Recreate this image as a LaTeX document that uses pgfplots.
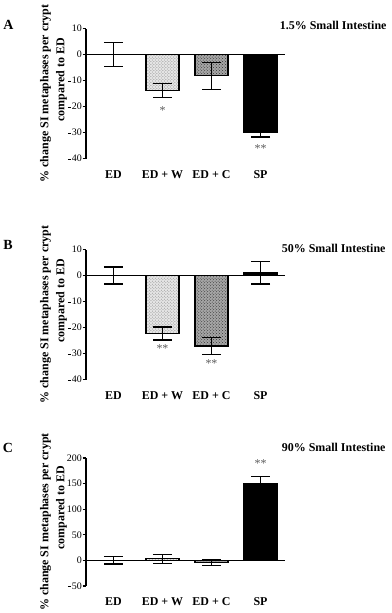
\documentclass[border=0pt]{standalone}
\usepackage{pgfplots}
\pgfplotsset{compat=1.18}
\usepackage{fontspec}
\setmainfont{Liberation Serif}
\usetikzlibrary{patterns}

\pgfplotsset{
  panel/.style={scale only axis, width=199bp, xmin=-0.561, xmax=3.5,
    axis y line*=left, axis x line*=bottom, x axis line style={draw=none},
    xtick={0,1,2,3}, xticklabels={ED, ED + W, ED + C, SP},
    xtick style={draw=none},
    xticklabel style={font=\bfseries\fontsize{12}{14}\selectfont, yshift=-5bp},
    tick align=outside, ytick style={black, line width=1.1pt}, major tick length=3.5bp,
    y axis line style={line width=1.6pt},
    yticklabel style={font=\fontsize{10}{12}\selectfont, inner sep=0.5pt},
    clip=false,
    ybar, bar shift=0pt, bar width=33bp},
  bars/.style={draw=black, line width=1.2pt,
    error bars/y dir=both, error bars/y explicit,
    error bars/error bar style={line width=1.2pt, black},
    error bars/error mark options={rotate=90, mark size=9.5bp, line width=1.2pt, black}},
  light/.style={bars, fill=black!10, postaction={pattern=crosshatch dots, pattern color=black!45}},
  dark/.style={bars, fill=black!35, postaction={pattern=crosshatch dots, pattern color=black!80}},
  solid/.style={bars, fill=black},
  plain/.style={bars, fill=white},
  zero/.style={sharp plot, line width=1.6pt, black, forget plot},
}
\tikzset{
  ylab/.style={rotate=90, font=\bfseries\fontsize{12}{14}\selectfont, inner sep=0pt},
  plab/.style={font=\bfseries\fontsize{14}{16}\selectfont},
  ttl/.style={anchor=east, font=\bfseries\fontsize{12}{14}\selectfont},
  star/.style={font=\fontsize{12}{14}\selectfont, text=black!65},
}
% a hyphen drawn a little heavier, so that it survives the small raster
\newcommand\mn{\rule[0.22em]{0.34em}{0.1em}\kern0.05em}

\begin{document}
\begin{tikzpicture}
\useasboundingbox (0,0) rectangle (392bp,-613bp);

%% A
\begin{axis}[panel, at={(86bp,-158.5bp)}, anchor=south west, height=130bp,
    ymin=-40, ymax=10, ytick={-40,-30,-20,-10,0,10},
    yticklabels={\mn40,\mn30,\mn20,\mn10,0,10}]
  \addplot[plain] coordinates {(0,0) +- (0,4.7)};
  \addplot[light] coordinates {(1,-13.8) +- (0,2.8)};
  \addplot[dark] coordinates {(2,-8.2) +- (0,5.2)};
  \addplot[solid] coordinates {(3,-30.1) +- (0,1.6)};
  \addplot[zero] coordinates {(-0.561,0) (3.5,0)};
  \node[star] at (axis cs:1,-21.5) {*};
  \node[star] at (axis cs:3,-36) {**};
\end{axis}
\node[ylab] at (45.5bp,-93.5bp) {\% change SI metaphases per crypt};
\node[ylab] at (61.5bp,-80bp) {compared to ED};
\node[plab] at (8.3bp,-25bp) {A};
\node[ttl] at (390bp,-25bp) {1.5\% Small Intestine};

%% B
\begin{axis}[panel, at={(86bp,-379.5bp)}, anchor=south west, height=130bp,
    ymin=-40, ymax=10, ytick={-40,-30,-20,-10,0,10},
    yticklabels={\mn40,\mn30,\mn20,\mn10,0,10}]
  \addplot[plain] coordinates {(0,0) +- (0,3.3)};
  \addplot[light] coordinates {(1,-22.3) +- (0,2.5)};
  \addplot[dark] coordinates {(2,-27.1) +- (0,3.3)};
  \addplot[solid] coordinates {(3,1.1) +- (0,4.4)};
  \addplot[zero] coordinates {(-0.561,0) (3.5,0)};
  \node[star] at (axis cs:1,-28) {**};
  \node[star] at (axis cs:2,-33.7) {**};
\end{axis}
\node[ylab] at (45.5bp,-314.5bp) {\% change SI metaphases per crypt};
\node[ylab] at (61.5bp,-301bp) {compared to ED};
\node[plab] at (8bp,-245bp) {B};
\node[ttl] at (389bp,-248bp) {50\% Small Intestine};

%% C
\begin{axis}[panel, at={(86bp,-586bp)}, anchor=south west, height=128bp,
    ymin=-50, ymax=200, ytick={-50,0,50,100,150,200},
    yticklabels={\mn50,0,50,100,150,200}]
  \addplot[plain] coordinates {(0,0) +- (0,7)};
  \addplot[light] coordinates {(1,3) +- (0,8.5)};
  \addplot[dark] coordinates {(2,-4) +- (0,5.5)};
  \addplot[solid] coordinates {(3,150) +- (0,14)};
  \addplot[zero] coordinates {(-0.561,0) (3.5,0)};
  \node[star] at (axis cs:3,190) {**};
\end{axis}
\node[ylab] at (45.5bp,-522bp) {\% change SI metaphases per crypt};
\node[ylab] at (61.5bp,-508bp) {compared to ED};
\node[plab] at (8bp,-448bp) {C};
\node[ttl] at (389bp,-447bp) {90\% Small Intestine};
\end{tikzpicture}
\end{document}
